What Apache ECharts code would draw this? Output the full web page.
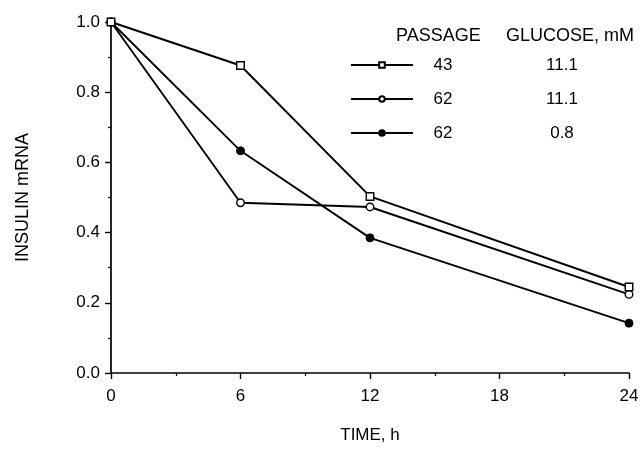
<!DOCTYPE html>
<html>
<head>
<meta charset="utf-8">
<script src="https://cdn.jsdelivr.net/npm/echarts@6/dist/echarts.min.js"></script>
<style>
html,body{margin:0;padding:0;background:#fff;}
#chart{width:644px;height:449px;}
</style>
</head>
<body>
<div id="chart"></div>
<script>
var timesH = [0, 6, 12, 24];
var passageLabels = ['43', '62', '62'];
var glucoseLabels = ['11.1', '11.1', '0.8'];
var seriesNames = ['43 / 11.1', '62 / 11.1', '62 / 0.8'];
var passage43Glc111 = [1.0, 0.876, 0.503, 0.245];
var passage62Glc111 = [1.0, 0.485, 0.473, 0.224];
var passage62Glc08 = [1.0, 0.633, 0.385, 0.142];
var xTicks = [0, 6, 12, 18, 24];
var yTicks = [0, 0.2, 0.4, 0.6, 0.8, 1.0];

var FONT = '"Liberation Sans", Arial, sans-serif';

function pairs(vals) {
  return timesH.map(function (t, i) { return [t, vals[i]]; });
}

var chart = echarts.init(document.getElementById('chart'), null, {renderer: 'canvas'});

var lineBase = {
  type: 'line',
  clip: false,
  lineStyle: {color: '#000', width: 1.9},
  emphasis: {disabled: true},
  animation: false
};

var nameMap = {};
seriesNames.forEach(function (n, i) { nameMap[n] = i; });

var option = {
  animation: false,
  backgroundColor: '#fff',
  grid: {left: 111, right: 15, top: 22, bottom: 68, containLabel: false},
  xAxis: {
    type: 'value',
    min: xTicks[0], max: xTicks[xTicks.length - 1], interval: 6,
    name: 'TIME, h',
    nameLocation: 'middle',
    nameGap: 54,
    nameTextStyle: {fontFamily: FONT, fontSize: 17, color: '#000'},
    axisLine: {show: true, onZero: false, lineStyle: {color: '#000', width: 1.7}},
    axisTick: {show: true, inside: false, length: 6, lineStyle: {color: '#000', width: 1.4}},
    minorTick: {show: true, splitNumber: 2, length: 3, lineStyle: {color: '#000', width: 1.2}},
    splitLine: {show: false},
    axisLabel: {fontFamily: FONT, fontSize: 17, color: '#000', margin: 15}
  },
  yAxis: {
    type: 'value',
    min: yTicks[0], max: yTicks[yTicks.length - 1], interval: 0.2,
    name: 'INSULIN mRNA',
    nameLocation: 'middle',
    nameGap: 79,
    nameRotate: 90,
    nameTextStyle: {fontFamily: FONT, fontSize: 18, color: '#000'},
    axisLine: {show: true, onZero: false, lineStyle: {color: '#000', width: 1.7}},
    axisTick: {show: true, inside: false, length: 6, lineStyle: {color: '#000', width: 1.4}},
    minorTick: {show: true, splitNumber: 2, length: 3, lineStyle: {color: '#000', width: 1.2}},
    splitLine: {show: false},
    axisLabel: {
      fontFamily: FONT, fontSize: 17, color: '#000', margin: 11,
      formatter: function (v) { return v.toFixed(1); }
    }
  },
  legend: {
    left: 345,
    top: 50,
    orient: 'vertical',
    itemWidth: 62,
    itemHeight: 7,
    itemGap: 14,
    selectedMode: false,
    data: [seriesNames[0], seriesNames[1], seriesNames[2]],
    textStyle: {
      fontFamily: FONT, fontSize: 17, color: '#000', lineHeight: 20,
      rich: {
        p: {fontFamily: FONT, fontSize: 17, color: '#000', width: 50, align: 'center', lineHeight: 20},
        g: {fontFamily: FONT, fontSize: 17, color: '#000', width: 188, align: 'center', lineHeight: 20}
      }
    },
    formatter: function (name) {
      var i = nameMap[name];
      return '{p|' + passageLabels[i] + '}{g|' + glucoseLabels[i] + '}';
    }
  },
  graphic: [
    {type: 'text', left: 396, top: 27, style: {text: 'PASSAGE', fontFamily: FONT, fontSize: 18, fill: '#000'}},
    {type: 'text', left: 506, top: 27, style: {text: 'GLUCOSE, mM', fontFamily: FONT, fontSize: 18, fill: '#000'}}
  ],
  series: [
    Object.assign({}, lineBase, {
      name: seriesNames[2], z: 2,
      symbol: 'circle', symbolSize: 8,
      itemStyle: {color: '#000', borderColor: '#000', borderWidth: 1},
      data: pairs(passage62Glc08)
    }),
    Object.assign({}, lineBase, {
      name: seriesNames[1], z: 3,
      symbol: 'circle', symbolSize: 7.5,
      itemStyle: {color: '#fff', borderColor: '#000', borderWidth: 1.4},
      data: pairs(passage62Glc111)
    }),
    Object.assign({}, lineBase, {
      name: seriesNames[0], z: 4,
      symbol: 'rect', symbolSize: 7.5,
      itemStyle: {color: '#fff', borderColor: '#000', borderWidth: 1.4},
      data: pairs(passage43Glc111)
    })
  ]
};

chart.setOption(option);
</script>
</body>
</html>
